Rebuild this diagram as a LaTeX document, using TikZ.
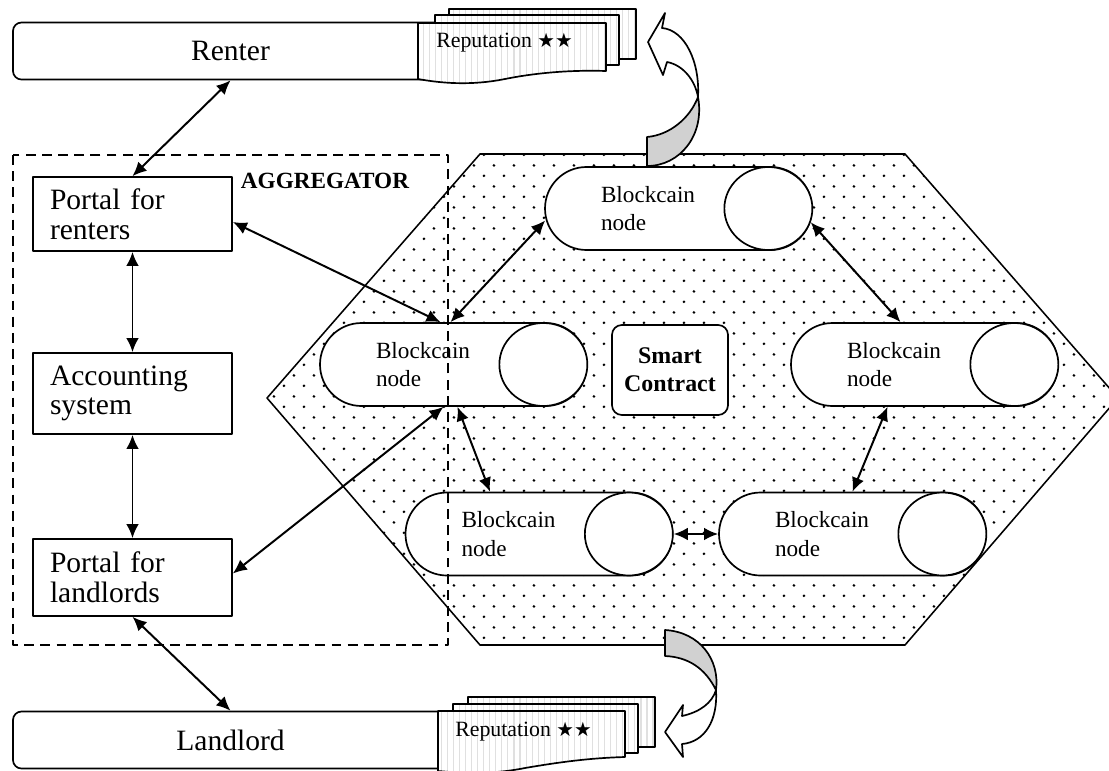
\documentclass[tikz,border=0pt]{standalone}
\usepackage{fontspec}
\setmainfont{Liberation Serif}
\newfontfamily\symfont{DejaVu Sans}
\usetikzlibrary{arrows.meta,shapes.misc,shapes.geometric,patterns,patterns.meta,calc}
\newdimen\pxl \pxl=0.025cm

% staggered dot grid for the contract area
\pgfdeclarepatternformonly{hexdots}{\pgfqpoint{0pt}{0pt}}{\pgfqpoint{14.2pt}{15.2pt}}{\pgfqpoint{14.2pt}{15.2pt}}{%
  \pgfpathcircle{\pgfqpoint{3.55pt}{3.8pt}}{1.05pt}%
  \pgfpathcircle{\pgfqpoint{10.65pt}{11.4pt}}{1.05pt}%
  \pgfusepath{fill}}

\begin{document}
\begin{tikzpicture}[x=0.025cm,y=-0.025cm,line join=round,
  box/.style={draw,line width=1.2pt,fill=white,inner sep=0pt,minimum width=199\pxl,
    text width=165\pxl,align=left,font=\fontsize{21}{21}\selectfont},
  bar/.style={draw,line width=1.2pt,fill=white,rounded corners=6pt,inner sep=0pt,
    minimum width=435\pxl,minimum height=57\pxl,font=\fontsize{21}{21}\selectfont},
  bcnode/.style={rounded rectangle,draw,line width=1.2pt,fill=white,inner sep=0pt,
    minimum width=267\pxl,minimum height=83\pxl,text width=155\pxl,align=left,
    font=\fontsize{16.5}{20}\selectfont},
  bccirc/.style={ellipse,draw,line width=1.2pt,fill=white,inner sep=0pt,
    minimum width=88\pxl,minimum height=83\pxl},
  tag/.style={draw,line width=1.2pt,preaction={fill=white},
    pattern={Lines[angle=90,distance=4.3pt,line width=0.8pt]},pattern color=black!12},
  tagtext/.style={anchor=west,inner sep=0pt,font=\fontsize{15.5}{15.5}\selectfont},
  conn/.style={line width=1.4pt,{Latex[length=10pt,width=9pt]}-{Latex[length=10pt,width=9pt]}},
  curvearrow/.style={draw,line width=1.2pt},
]
\useasboundingbox (0,0) rectangle (1109,770);

% contract area
\path[preaction={fill=white},pattern=hexdots]
  (480,154) -- (905,154) -- (1118,398) -- (905,645) -- (480,645) -- (267,398) -- cycle;
\draw[line width=1.1pt]
  (480,154) -- (905,154) -- (1118,398) -- (905,645) -- (480,645) -- (267,398) -- cycle;

% blockchain nodes
\node[bcnode] (n1) at (678.5,208.5) {Blockcain\\node};
\node[bcnode] (n2) at (453.5,364.5) {Blockcain\\node};
\node[bcnode] (n3) at (924.5,364.5) {Blockcain\\node};
\node[bcnode] (n4) at (539,534) {Blockcain\\node};
\node[bcnode] (n5) at (852.5,534) {Blockcain\\node};
\foreach \n in {1,...,5}
  \node[bccirc] (c\n) at ($(n\n.east)+(-44.5,0)$) {};

\node[draw,line width=1.2pt,fill=white,rounded corners=7pt,minimum width=116\pxl,
  minimum height=90\pxl,align=center,inner sep=0pt,
  font=\bfseries\fontsize{17}{20}\selectfont] (sc) at (670,370) {Smart\\Contract};

% aggregator frame
\draw[line width=1.3pt,dash pattern=on 7pt off 4.5pt] (13,155) rectangle (448,645);
\node[inner sep=0pt,font=\bfseries\fontsize{16.5}{16.5}\selectfont] (agg) at (325,181) {AGGREGATOR};

\node[box,minimum height=74\pxl] (pr) at (132.5,214) {Portal for\\renters};
\node[box,minimum height=81\pxl] (acc) at (132.5,393.5) {Accounting\\system};
\node[box,minimum height=77\pxl] (pl) at (132.5,577.5) {Portal for\\landlords};

% participants
\node[bar] (renter) at (230.5,51) {Renter};
\node[bar] (landlord) at (230.5,740) {Landlord};

% reputation cards
\path[tag] (449,9) rectangle (636,59);
\path[tag] (435,15) rectangle (619,65);
\path[tag] (418,23) -- (606,23) -- (606,71) .. controls (575,70) and (540,72) .. (505,79)
  .. controls (470,86) and (440,83) .. (418,79) -- cycle;
\node[tagtext] (rep1) at (436,43) {Reputation {\symfont\fontsize{14}{14}\selectfont ★★}};

\path[tag] (468,697) rectangle (655,747);
\path[tag] (453,704) rectangle (638,753);
\path[tag] (438,711) -- (625,711) -- (625,757) .. controls (590,758) and (560,762) .. (525,768)
  .. controls (490,775) and (460,773) .. (438,771) -- cycle;
\node[tagtext] (rep2) at (455,732) {Reputation {\symfont\fontsize{14}{14}\selectfont ★★}};

% curved arrows from the contract to the cards
\path[curvearrow,fill=black!18] (698,97) .. controls (705,135) and (680,166) .. (647,166)
  -- (647,137) .. controls (670,135) and (690,118) .. (698,97) -- cycle;
\path[curvearrow,fill=white] (698,97) .. controls (700,62) and (685,30) .. (662,28)
  -- (665,13) -- (648,42) -- (663,75) -- (667,62)
  .. controls (683,65) and (695,80) .. (698,97) -- cycle;

\path[curvearrow,fill=black!18] (716,690) .. controls (720,660) and (700,632) .. (665,630)
  -- (665,656) .. controls (688,657) and (705,668) .. (716,690) -- cycle;
\path[curvearrow,fill=white] (716,690) .. controls (718,720) and (705,742) .. (682,744)
  -- (683,757) -- (665,732) -- (683,705) -- (682,716)
  .. controls (700,712) and (712,703) .. (716,690) -- cycle;

% connectors
\draw[conn] (renter.south) -- (pr.north);
\draw[conn] ($(pr.east)+(0,8)$) -- ($(n2.north)+(-13,0)$);
\draw[conn] ($(n1.west)+(1,12)$) -- ($(n2.north)+(-3,0)$);
\draw[conn] (c1.-18) -- ($(n3.north)+(-24,0)$);
\draw[conn] ($(n3.south)+(-37,0)$) -- (n5.north);
\draw[conn] (c4.east) -- (n5.west);
\draw[conn] ($(n2.south)+(4,0)$) -- ($(n4.north)+(-49,0)$);
\draw[conn] ($(n2.south)+(-10,0)$) -- ($(pl.east)+(0,-4)$);
\draw[conn] (pr.south) -- (acc.north);
\draw[conn] (acc.south) -- (pl.north);
\draw[conn] (pl.south) -- (landlord.north);
\end{tikzpicture}
\end{document}
